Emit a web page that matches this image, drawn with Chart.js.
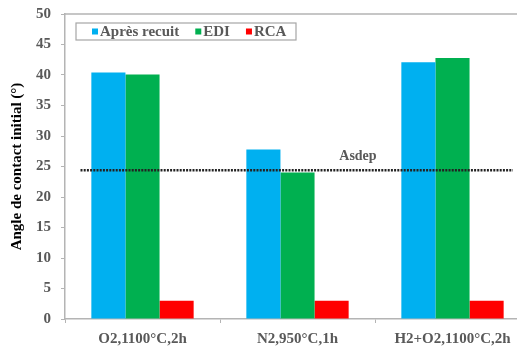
<!DOCTYPE html>
<html>
<head>
<meta charset="utf-8">
<script src="https://cdn.jsdelivr.net/npm/chart.js@4.4.0/dist/chart.umd.min.js"></script>
<style>
  html, body { margin: 0; padding: 0; background: #fff; overflow: hidden; width: 517px; height: 346px; }
  canvas { display: block; }
</style>
</head>
<body>
<canvas id="chart" width="545" height="346"></canvas>
<script>
// données
const categories = ['O2,1100°C,2h', 'N2,950°C,1h', 'H2+O2,1100°C,2h'];
const apresRecuit = [40.4, 27.8, 42.1];
const edi = [40.1, 24.0, 42.8];
const rca = [3.0, 3.0, 3.0];
const seriesNames = ['Après recuit', 'EDI', 'RCA'];
const seriesColors = ['#00b0f0', '#00b050', '#ff0000'];
const asdepValue = 24.4;
const asdepLabel = 'Asdep';
const yTitle = 'Angle de contact initial (°)';

const FONT = '"Liberation Serif", "DejaVu Serif", serif';
const AXIS = '#b4b4b4';

// cadre + ligne Asdep + légende encadrée
const extras = {
    id: 'extras',
    afterDatasetsDraw(chart) {
        const { ctx, chartArea: a, scales: { x, y } } = chart;
        ctx.save();

        // cadre haut / droite
        ctx.strokeStyle = AXIS;
        ctx.lineWidth = 1.5;
        ctx.beginPath();
        ctx.moveTo(a.left, a.top);
        ctx.lineTo(a.right, a.top);
        ctx.lineTo(a.right, a.bottom);
        ctx.stroke();

        // ligne pointillée Asdep
        const yy = y.getPixelForValue(asdepValue);
        ctx.strokeStyle = '#222';
        ctx.lineWidth = 2.5;
        ctx.setLineDash([2, 1.2]);
        ctx.beginPath();
        ctx.moveTo(x.getPixelForValue(-0.4), yy);
        ctx.lineTo(x.getPixelForValue(2.39), yy);
        ctx.stroke();
        ctx.setLineDash([]);

        ctx.fillStyle = '#595959';
        ctx.font = 'bold 14px ' + FONT;
        ctx.textAlign = 'center';
        ctx.textBaseline = 'bottom';
        ctx.fillText(asdepLabel, x.getPixelForValue(1.39), yy - 7);

        // légende
        ctx.font = 'bold 15px ' + FONT;
        const lx = a.left + 11, ly = a.top + 9, lw = 220, lh = 17;
        ctx.strokeStyle = '#a6a6a6';
        ctx.lineWidth = 1.2;
        ctx.fillStyle = '#fff';
        ctx.fillRect(lx, ly, lw, lh);
        ctx.strokeRect(lx, ly, lw, lh);
        ctx.textAlign = 'left';
        ctx.textBaseline = 'middle';
        let cx = lx + 16;
        chart.data.datasets.forEach(ds => {
            ctx.fillStyle = ds.backgroundColor;
            ctx.fillRect(cx, ly + lh / 2 - 3, 6, 6);
            ctx.fillStyle = '#595959';
            ctx.fillText(ds.label, cx + 8, ly + lh / 2 + 1);
            cx += 8 + ctx.measureText(ds.label).width + 16;
        });
        ctx.restore();
    }
};

new Chart(document.getElementById('chart'), {
    type: 'bar',
    data: {
        labels: categories,
        datasets: [apresRecuit, edi, rca].map((d, i) => ({
            label: seriesNames[i],
            data: d,
            backgroundColor: seriesColors[i],
            borderWidth: 0,
            barPercentage: 1,
            categoryPercentage: 0.66
        }))
    },
    options: {
        responsive: false,
        animation: false,
        layout: { padding: { left: 0, top: 14, right: 15, bottom: 0 } },
        plugins: { legend: { display: false }, tooltip: { enabled: false } },
        scales: {
            x: {
                grid: { drawOnChartArea: false, color: AXIS, tickLength: 4 },
                border: { color: AXIS, width: 1.5 },
                ticks: { color: '#595959', font: { family: FONT, size: 15, weight: 'bold' }, padding: 7, maxRotation: 0 },
                afterFit: s => { s.height = 27; s.paddingLeft = 0; s.paddingRight = 0; }
            },
            y: {
                min: 0, max: 50,
                grid: { drawOnChartArea: false, color: AXIS, tickLength: 4 },
                border: { color: AXIS, width: 1.5 },
                ticks: { stepSize: 5, color: '#595959', font: { family: FONT, size: 15, weight: 'bold' }, padding: 10 },
                title: {
                    display: true,
                    text: yTitle,
                    color: '#000',
                    font: { family: FONT, size: 15, weight: 'bold' },
                    padding: { top: 8, bottom: 0 }
                },
                afterFit: s => { s.width = 65; s.paddingTop = 0; s.paddingBottom = 0; }
            }
        }
    },
    plugins: [extras]
});
</script>
</body>
</html>
